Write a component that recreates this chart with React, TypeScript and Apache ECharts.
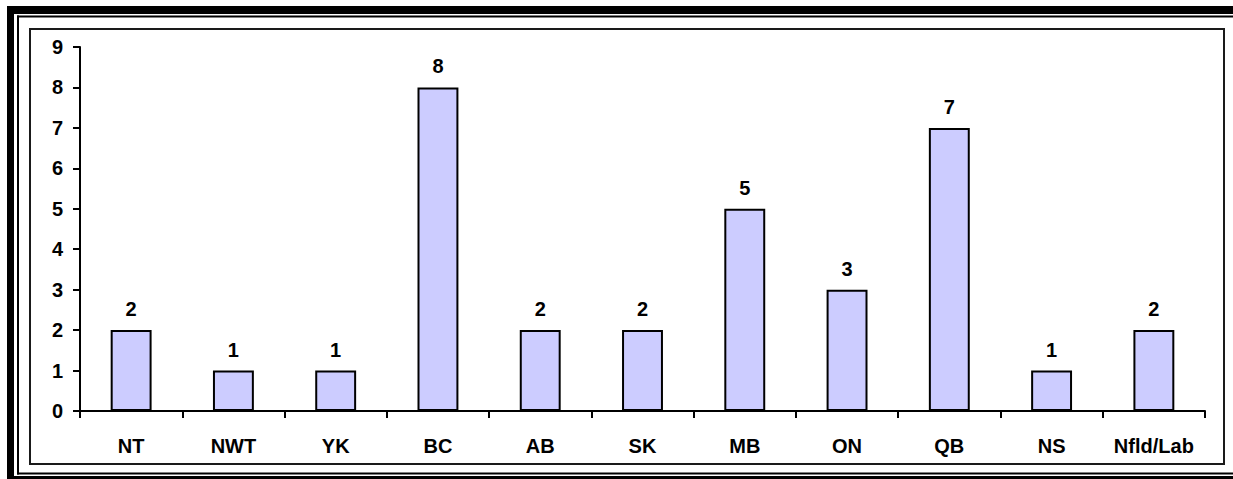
import React, { useEffect, useRef } from "react";
import * as echarts from "echarts";

const categories = ["NT", "NWT", "YK", "BC", "AB", "SK", "MB", "ON", "QB", "NS", "Nfld/Lab"];
const values = [2, 1, 1, 8, 2, 2, 5, 3, 7, 1, 2];
const yMin = 0;
const yMax = 9;
const yInterval = 1;

const FONT = "'Liberation Sans', Arial, Helvetica, sans-serif";

export default function App() {
  const ref = useRef<HTMLDivElement>(null);
  useEffect(() => {
    if (!ref.current) return;
    const chart = echarts.init(ref.current, undefined, { renderer: "svg" });
    chart.setOption({
      animation: false,
      backgroundColor: "#ffffff",
      graphic: [
        { type: "rect", shape: { x: 7, y: 6, width: 1226, height: 8 }, style: { fill: "#000" }, silent: true },
        { type: "rect", shape: { x: 7, y: 6, width: 7, height: 473 }, style: { fill: "#000" }, silent: true },
        { type: "rect", shape: { x: 17, y: 15.5, width: 1216, height: 2 }, style: { fill: "#000" }, silent: true },
        { type: "rect", shape: { x: 17, y: 15.5, width: 2, height: 459 }, style: { fill: "#000" }, silent: true },
        { type: "rect", shape: { x: 17, y: 472.5, width: 1216, height: 2 }, style: { fill: "#000" }, silent: true },
        { type: "rect", shape: { x: 7, y: 476, width: 1226, height: 4 }, style: { fill: "#000" }, silent: true },
        {
          type: "rect",
          shape: { x: 30, y: 29, width: 1194, height: 435 },
          style: { fill: "none", stroke: "#1a1a1a", lineWidth: 2 },
          silent: true,
        },
      ],
      grid: { left: 80, right: 28, top: 47, bottom: 68, containLabel: false },
      xAxis: {
        type: "category",
        data: categories,
        boundaryGap: true,
        axisLine: { show: true, lineStyle: { color: "#000", width: 2 } },
        axisTick: { show: true, interval: 0, alignWithLabel: false, length: 7, lineStyle: { color: "#000", width: 2 } },
        axisLabel: { interval: 0, color: "#000", fontFamily: FONT, fontWeight: "bold", fontSize: 20, margin: 25 },
        splitLine: { show: false },
      },
      yAxis: {
        type: "value",
        min: yMin,
        max: yMax,
        interval: yInterval,
        axisLine: { show: true, lineStyle: { color: "#000", width: 2 } },
        axisTick: { show: true, length: 7, lineStyle: { color: "#000", width: 2 } },
        axisLabel: { color: "#000", fontFamily: FONT, fontWeight: "bold", fontSize: 20, margin: 17 },
        splitLine: { show: false },
      },
      series: [
        {
          type: "bar",
          data: values,
          barWidth: "40%",
          itemStyle: { color: "#CCCCFF", borderColor: "#000", borderWidth: 2 },
          label: {
            show: true,
            position: "top",
            distance: 11,
            color: "#000",
            fontFamily: FONT,
            fontWeight: "bold",
            fontSize: 20,
          },
        },
      ],
    });
    return () => chart.dispose();
  }, []);
  return (
    <div
      ref={ref}
      style={{ position: "fixed", left: 0, top: 0, width: 1233, height: 479 }}
    />
  );
}
